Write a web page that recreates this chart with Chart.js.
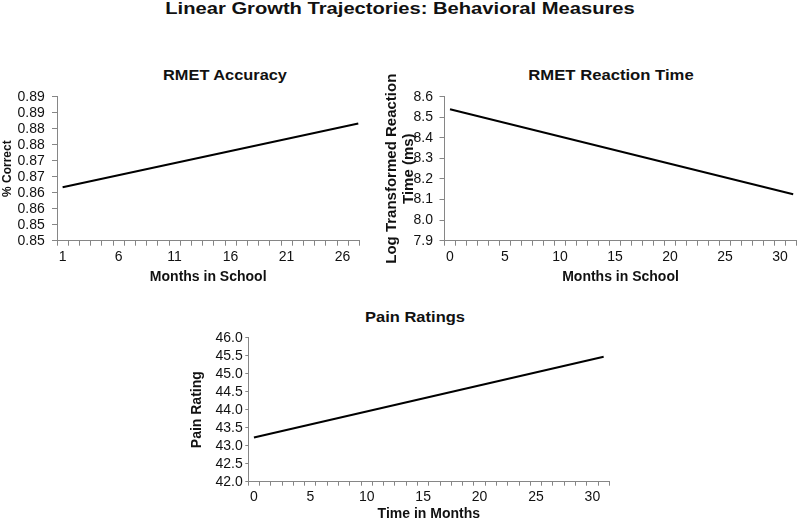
<!DOCTYPE html>
<html>
<head>
<meta charset="utf-8">
<script src="https://cdn.jsdelivr.net/npm/chart.js@4.4.0/dist/chart.umd.min.js"></script>
<style>
  body { margin: 0; background: #fff; }
  #wrap { position: relative; width: 800px; height: 523px; overflow: hidden;
          font-family: 'Liberation Sans', Arial, sans-serif; color: #111; }
  #wrap canvas { position: absolute; left: 0; top: 0; }
  .ttl { position: absolute; font-weight: bold; white-space: nowrap; line-height: 1; }
</style>
</head>
<body>
<div id="wrap">
  <div class="ttl" style="left:400px;top:9px;font-size:16px;transform:translate(-50%,-50%) scaleX(1.26)">Linear Growth Trajectories: Behavioral Measures</div>
  <div class="ttl" style="left:225px;top:74px;font-size:15px;transform:translate(-50%,-50%) scaleX(1.09)">RMET Accuracy</div>
  <div class="ttl" style="left:611px;top:74px;font-size:15px;transform:translate(-50%,-50%) scaleX(1.11)">RMET Reaction Time</div>
  <div class="ttl" style="left:415px;top:316px;font-size:15px;transform:translate(-50%,-50%) scaleX(1.1)">Pain Ratings</div>
  <canvas id="graph1" width="800" height="523"></canvas>
  <canvas id="graph2" width="800" height="523"></canvas>
  <canvas id="graph3" width="800" height="523"></canvas>
</div>
<script>
// valores (inicio e fim de cada trajetoria)
var accMonths = [1, 27.4];
var accValues = [0.8617, 0.8816];
var accYLabels = ['0.85', '0.85', '0.86', '0.86', '0.87', '0.87', '0.88', '0.88', '0.89', '0.89'];
var accXLabels = [1, 6, 11, 16, 21, 26];

var rtMonths = [0, 31.2];
var rtValues = [8.539, 8.126];
var rtYLabels = ['7.9', '8.0', '8.1', '8.2', '8.3', '8.4', '8.5', '8.6'];
var rtXLabels = [0, 5, 10, 15, 20, 25, 30];

var painMonths = [0, 31];
var painValues = [43.23, 45.47];
var painYLabels = ['42.0', '42.5', '43.0', '43.5', '44.0', '44.5', '45.0', '45.5', '46.0'];
var painXLabels = [0, 5, 10, 15, 20, 25, 30];

Chart.defaults.font.family = "'Liberation Sans', Arial, sans-serif";
Chart.defaults.color = '#111';

var axisGray = '#868686';

function makeChart(id, xs, ys, c) {
  // tick marks on category boundaries, labels on the named months
  var xTicks = [];
  for (var b = c.xMin; b <= c.xMax + 1e-9; b += 1) xTicks.push(b);
  c.xLabels.forEach(function (v) { xTicks.push(v); });
  xTicks.sort(function (a, b) { return a - b; });

  var yTicks = c.yLabels.map(function (l, i) { return c.yMin + i * c.yStep; });

  return new Chart(document.getElementById(id), {
    type: 'line',
    data: {
      datasets: [{
        data: xs.map(function (x, i) { return { x: x, y: ys[i] }; }),
        borderColor: '#000',
        borderWidth: 2,
        pointRadius: 0,
        fill: false
      }]
    },
    options: {
      responsive: false,
      animation: false,
      layout: { padding: c.pad },
      plugins: { legend: { display: false }, tooltip: { enabled: false } },
      scales: {
        x: {
          type: 'linear',
          min: c.xMin,
          max: c.xMax,
          afterBuildTicks: function (s) { s.ticks = xTicks.map(function (v) { return { value: v }; }); },
          afterFit: function (s) { s.height = c.xH; },
          ticks: {
            autoSkip: false,
            maxRotation: 0,
            padding: c.xPad,
            font: { size: 14 },
            callback: function (v) { return c.xLabels.indexOf(v) >= 0 ? String(v) : ''; }
          },
          grid: {
            drawOnChartArea: false,
            tickLength: c.xTick,
            tickColor: function (ctx) {
              return c.xLabels.indexOf(ctx.tick.value) >= 0 ? 'rgba(0,0,0,0)' : axisGray;
            }
          },
          border: { color: axisGray, width: 1 },
          title: { display: true, text: c.xTitle, font: { size: 14, weight: 'bold' }, padding: 0 }
        },
        y: {
          type: 'linear',
          min: c.yMin,
          max: yTicks[yTicks.length - 1],
          afterBuildTicks: function (s) { s.ticks = yTicks.map(function (v) { return { value: v }; }); },
          afterFit: function (s) { s.width = c.yW; },
          ticks: {
            autoSkip: false,
            padding: c.yPad,
            font: { size: 14 },
            callback: function (v, i) { return c.yLabels[i]; }
          },
          grid: { drawOnChartArea: false, tickLength: c.yTick, tickColor: axisGray },
          border: { color: axisGray, width: 1 },
          title: { display: true, text: c.yTitle, font: c.yTitleFont, padding: 0 }
        }
      }
    }
  });
}

makeChart('graph1', accMonths, accValues, {
  xMin: 0.5, xMax: 27.5, xLabels: accXLabels, xTitle: 'Months in School',
  yMin: 0.845, yStep: 0.005, yLabels: accYLabels, yTitle: '% Correct',
  yTitleFont: { size: 12, weight: 'bold' },
  pad: { left: 0, right: 440.6, top: 96.7, bottom: 237.1 },
  xH: 45.2, xTick: 5, xPad: 3, yW: 57, yTick: 5, yPad: 7.3
});

makeChart('graph2', rtMonths, rtValues, {
  xMin: -0.5, xMax: 31.5, xLabels: rtXLabels, xTitle: 'Months in School',
  yMin: 7.9, yStep: 0.1, yLabels: rtYLabels, yTitle: ['Log Transformed Reaction', 'Time (ms)'],
  yTitleFont: { size: 15, weight: 'bold', lineHeight: 1.1 },
  pad: { left: 384, right: 3.5, top: 96.7, bottom: 237.1 },
  xH: 45.2, xTick: 5, xPad: 3, yW: 60.5, yTick: 5, yPad: 6.5
});

makeChart('graph3', painMonths, painValues, {
  xMin: -0.5, xMax: 31.5, xLabels: painXLabels, xTitle: 'Time in Months',
  yMin: 42, yStep: 0.5, yLabels: painYLabels, yTitle: 'Pain Rating',
  yTitleFont: { size: 14, weight: 'bold' },
  pad: { left: 188.6, right: 190.7, top: 337.7, bottom: 0 },
  xH: 41.3, xTick: 4, xPad: 3.4, yW: 59.7, yTick: 3, yPad: 2.6
});
</script>
</body>
</html>
